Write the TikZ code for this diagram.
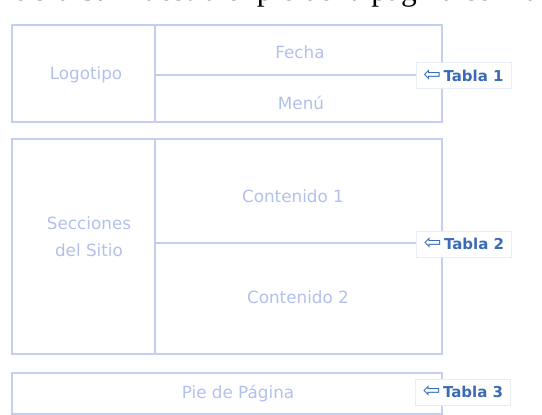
\documentclass[tikz,border=0pt]{standalone}
\usepackage{fontspec}
\setmainfont{Liberation Serif}
\newfontfamily\cajafont{DejaVu Sans}
\definecolor{linea}{HTML}{C4CEF0}
\definecolor{rotulo}{HTML}{B2C0EC}
\definecolor{tabla}{HTML}{3A6CB6}
\definecolor{borde}{HTML}{E6ECF8}

\begin{document}
\begin{tikzpicture}[x=1pt,y=-1pt,
    marco/.style={draw=linea,line width=2.5pt},
    texto/.style={text=rotulo,font=\cajafont\fontsize{16.8}{27}\selectfont,align=center},
    etiqueta/.style={draw=borde,fill=white,text=tabla,inner sep=0pt,
        minimum width=95pt,minimum height=26pt,
        font=\cajafont\bfseries\fontsize{15}{16}\selectfont}]
    \useasboundingbox (0,0) rectangle (542,415);
    \clip (0,0) rectangle (542,415);
    \node[anchor=base west,inner sep=0pt,font=\fontsize{31.5}{36}\selectfont] (titulo) at (-3,1)
        {\textbf{Tabla 3.} Muestra el pie de la página con la};
    % tabla 1
    \draw[marco] (12,25) rectangle (442,122);
    \draw[marco] (155,25) -- (155,122);
    \draw[marco] (155,75) -- (442,75);
    \node[texto] (logo) at (86,75) {Logotipo};
    \node[texto] (fecha) at (300,52) {Fecha};
    \node[texto] (menu) at (301,103) {Menú};
    % tabla 2
    \draw[marco] (12,139) rectangle (442,354);
    \draw[marco] (155,139) -- (155,354);
    \draw[marco] (155,243) -- (442,243);
    \node[texto] (secciones) at (89,237) {Secciones\\del Sitio};
    \node[texto] (cont1) at (293,196) {Contenido 1};
    \node[texto] (cont2) at (298,297) {Contenido 2};
    % tabla 3
    \draw[marco] (12,373) rectangle (442,414);
    \node[texto] (pie) at (238,394) {Pie de Página};
    % rotulos
    \node[etiqueta] (tabla1) at (463.5,75.5) {{\mdseries\fontsize{21}{16}\selectfont ⇦}\,Tabla 1};
    \node[etiqueta] (tabla2) at (464,244) {{\mdseries\fontsize{21}{16}\selectfont ⇦}\,Tabla 2};
    \node[etiqueta] (tabla3) at (463,392) {{\mdseries\fontsize{21}{16}\selectfont ⇦}\,Tabla 3};
\end{tikzpicture}
\end{document}
